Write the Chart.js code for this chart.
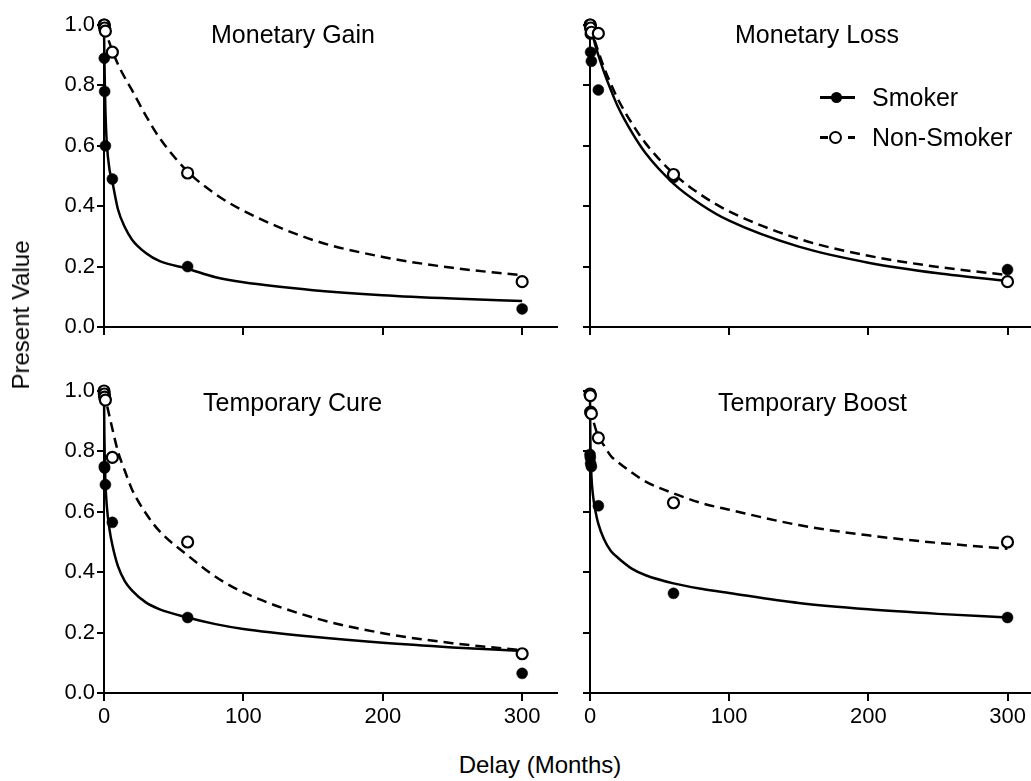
<!DOCTYPE html>
<html><head><meta charset="utf-8">
<script src="https://cdn.jsdelivr.net/npm/chart.js@4.4.1/dist/chart.umd.min.js"></script>
<style>
html,body{margin:0;padding:0;background:#fff;overflow:hidden;}
#wrap{position:relative;width:1031px;height:781px;overflow:hidden;background:#fff;font-family:"Liberation Sans",Arial,sans-serif;color:#000;}
canvas{position:absolute;}
.t{position:absolute;white-space:nowrap;line-height:1;font-size:25px;}
.blk{position:absolute;background:#000;}
</style></head><body>
<div id="wrap">
<canvas id="c1" width="570" height="345" style="left:0;top:0"></canvas>
<canvas id="c2" width="490" height="345" style="left:560px;top:0"></canvas>
<canvas id="c3" width="570" height="372" style="left:0;top:370px"></canvas>
<canvas id="c4" width="490" height="372" style="left:560px;top:370px"></canvas>

<div class="t" style="left:211px;top:22px">Monetary Gain</div>
<div class="t" style="left:735px;top:22px">Monetary Loss</div>
<div class="t" style="left:203px;top:390px">Temporary Cure</div>
<div class="t" style="left:718px;top:390px">Temporary Boost</div>

<div class="blk" style="left:820px;top:95.5px;width:35px;height:3.5px"></div>
<div class="blk" style="left:831px;top:91.5px;width:11px;height:11px;border-radius:50%"></div>
<div class="t" style="left:872px;top:85px">Smoker</div>
<div class="blk" style="left:820px;top:136px;width:8px;height:3px"></div>
<div style="position:absolute;left:829px;top:131px;width:9px;height:9px;border:2px solid #000;border-radius:50%;background:#fff"></div>
<div class="blk" style="left:848px;top:136px;width:7px;height:3px"></div>
<div class="t" style="left:872px;top:125px">Non-Smoker</div>

<div class="t" style="left:21px;top:315px;font-size:24px;transform:translate(-50%,-50%) rotate(-90deg)">Present Value</div>
<div class="t" style="left:540px;top:753px;font-size:24px;transform:translateX(-50%)">Delay (Months)</div>
</div>
<script>
// ---- data ----
const delays = [0.033, 0.23, 0.46, 1, 6, 60, 300];
const curveDelays = [0, 0.25, 0.5, 1, 2, 4, 6, 10, 15, 20, 30, 40, 60, 80, 100, 150, 200, 250, 300];
const xTicks = [0, 100, 200, 300];
const yTicks = [0, 0.2, 0.4, 0.6, 0.8, 1.0];

const gainSmoker    = [1.0, 0.89, 0.78, 0.60, 0.49, 0.20, 0.06];
const gainNonSmoker = [1.0, 1.0, 0.99, 0.98, 0.91, 0.51, 0.15];
const gainSmokerFit    = [1.00, 0.90, 0.83, 0.72, 0.61, 0.52, 0.48, 0.39, 0.33, 0.29, 0.245, 0.218, 0.193, 0.165, 0.148, 0.122, 0.105, 0.094, 0.086];
const gainNonSmokerFit = [1.00, 0.995, 0.99, 0.98, 0.965, 0.94, 0.915, 0.87, 0.825, 0.785, 0.70, 0.625, 0.515, 0.44, 0.385, 0.288, 0.232, 0.196, 0.171];

const lossSmoker    = [0.99, 0.97, 0.91, 0.88, 0.785, 0.495, 0.19];
const lossNonSmoker = [1.0, 1.0, 0.99, 0.976, 0.972, 0.505, 0.15];
const lossSmokerFit    = [1.00, 0.995, 0.99, 0.98, 0.965, 0.93, 0.90, 0.845, 0.785, 0.73, 0.645, 0.575, 0.475, 0.405, 0.352, 0.266, 0.213, 0.178, 0.153];
const lossNonSmokerFit = [1.00, 0.996, 0.992, 0.984, 0.97, 0.94, 0.912, 0.86, 0.805, 0.755, 0.675, 0.608, 0.508, 0.437, 0.383, 0.292, 0.236, 0.199, 0.172];

const cureSmoker    = [0.995, 0.75, 0.745, 0.69, 0.565, 0.25, 0.065];
const cureNonSmoker = [1.0, 0.99, 0.98, 0.97, 0.78, 0.50, 0.13];
const cureSmokerFit    = [1.00, 0.86, 0.79, 0.70, 0.62, 0.54, 0.49, 0.42, 0.37, 0.34, 0.30, 0.277, 0.25, 0.228, 0.212, 0.186, 0.166, 0.151, 0.139];
const cureNonSmokerFit = [1.00, 0.995, 0.99, 0.975, 0.955, 0.915, 0.875, 0.80, 0.735, 0.675, 0.595, 0.535, 0.456, 0.385, 0.333, 0.25, 0.198, 0.165, 0.142];

const boostSmoker    = [0.79, 0.78, 0.76, 0.75, 0.62, 0.33, 0.25];
const boostNonSmoker = [0.99, 0.985, 0.93, 0.925, 0.845, 0.63, 0.50];
const boostSmokerFit    = [1.00, 0.84, 0.79, 0.72, 0.66, 0.60, 0.56, 0.51, 0.47, 0.448, 0.412, 0.39, 0.363, 0.345, 0.331, 0.298, 0.277, 0.262, 0.25];
const boostNonSmokerFit = [1.00, 0.97, 0.955, 0.935, 0.91, 0.875, 0.85, 0.82, 0.785, 0.765, 0.73, 0.70, 0.661, 0.629, 0.607, 0.556, 0.522, 0.497, 0.478];

// ---- drawing ----
const FONT = {family: '"Liberation Sans", Arial, sans-serif', size: 22};
const pts = (xs, ys) => xs.map((x, i) => ({x: x, y: ys[i]}));

function makeChart(id, o) {
  new Chart(document.getElementById(id), {
    type: 'scatter',
    data: {
      datasets: [
        {label: 'Non-Smoker', data: pts(delays, o.ns), showLine: false, pointRadius: 5.5,
         pointBackgroundColor: '#fff', pointBorderColor: '#000', pointBorderWidth: 2.2, order: 0, clip: false},
        {label: 'Smoker', data: pts(delays, o.s), showLine: false, pointRadius: 5.5,
         pointBackgroundColor: '#000', pointBorderColor: '#000', pointBorderWidth: 0.5, order: 1, clip: false},
        {label: 'Non-Smoker fit', data: pts(curveDelays, o.nsFit), showLine: true, borderColor: '#000',
         borderWidth: 2.5, borderDash: [10, 6], pointRadius: 0, cubicInterpolationMode: 'monotone', order: 2, clip: false},
        {label: 'Smoker fit', data: pts(curveDelays, o.sFit), showLine: true, borderColor: '#000',
         borderWidth: 2.5, pointRadius: 0, cubicInterpolationMode: 'monotone', order: 3, clip: false}
      ]
    },
    options: {
      responsive: false, animation: false, events: [],
      layout: {padding: o.pad},
      plugins: {legend: {display: false}, tooltip: {enabled: false}},
      scales: {
        x: {
          type: 'linear', min: 0, max: 325,
          afterBuildTicks: s => { s.ticks = xTicks.map(v => ({value: v})); },
          afterFit: s => { s.height = o.xh; },
          ticks: {display: o.xl, font: FONT, color: '#000', padding: 3, maxRotation: 0, autoSkip: false,
                  callback: v => String(v)},
          grid: {display: true, drawOnChartArea: false, drawTicks: true, tickLength: 8, color: '#000', lineWidth: 2},
          border: {display: true, color: '#000', width: 2}
        },
        y: {
          type: 'linear', min: 0, max: 1,
          afterBuildTicks: s => { s.ticks = yTicks.map(v => ({value: v})); },
          afterFit: s => { s.width = o.yw; },
          ticks: {display: o.yl, font: FONT, color: '#000', padding: 2, autoSkip: false,
                  callback: v => v.toFixed(1)},
          grid: {display: true, drawOnChartArea: false, drawTicks: true, tickLength: 7, color: '#000', lineWidth: 2},
          border: {display: true, color: '#000', width: 2}
        }
      }
    }
  });
}

makeChart('c1', {s: gainSmoker, ns: gainNonSmoker, sFit: gainSmokerFit, nsFit: gainNonSmokerFit,
  xl: false, yl: true, yw: 104, xh: 18, pad: {top: 25, right: 13, left: 0, bottom: 0}});
makeChart('c2', {s: lossSmoker, ns: lossNonSmoker, sFit: lossSmokerFit, nsFit: lossNonSmokerFit,
  xl: false, yl: false, yw: 30, xh: 18, pad: {top: 25, right: 7.7, left: 0, bottom: 0}});
makeChart('c3', {s: cureSmoker, ns: cureNonSmoker, sFit: cureSmokerFit, nsFit: cureNonSmokerFit,
  xl: true, yl: true, yw: 104, xh: 49, pad: {top: 21, right: 13, left: 0, bottom: 0}});
makeChart('c4', {s: boostSmoker, ns: boostNonSmoker, sFit: boostSmokerFit, nsFit: boostNonSmokerFit,
  xl: true, yl: false, yw: 30, xh: 49, pad: {top: 21, right: 7.7, left: 0, bottom: 0}});
</script>
</body></html>
